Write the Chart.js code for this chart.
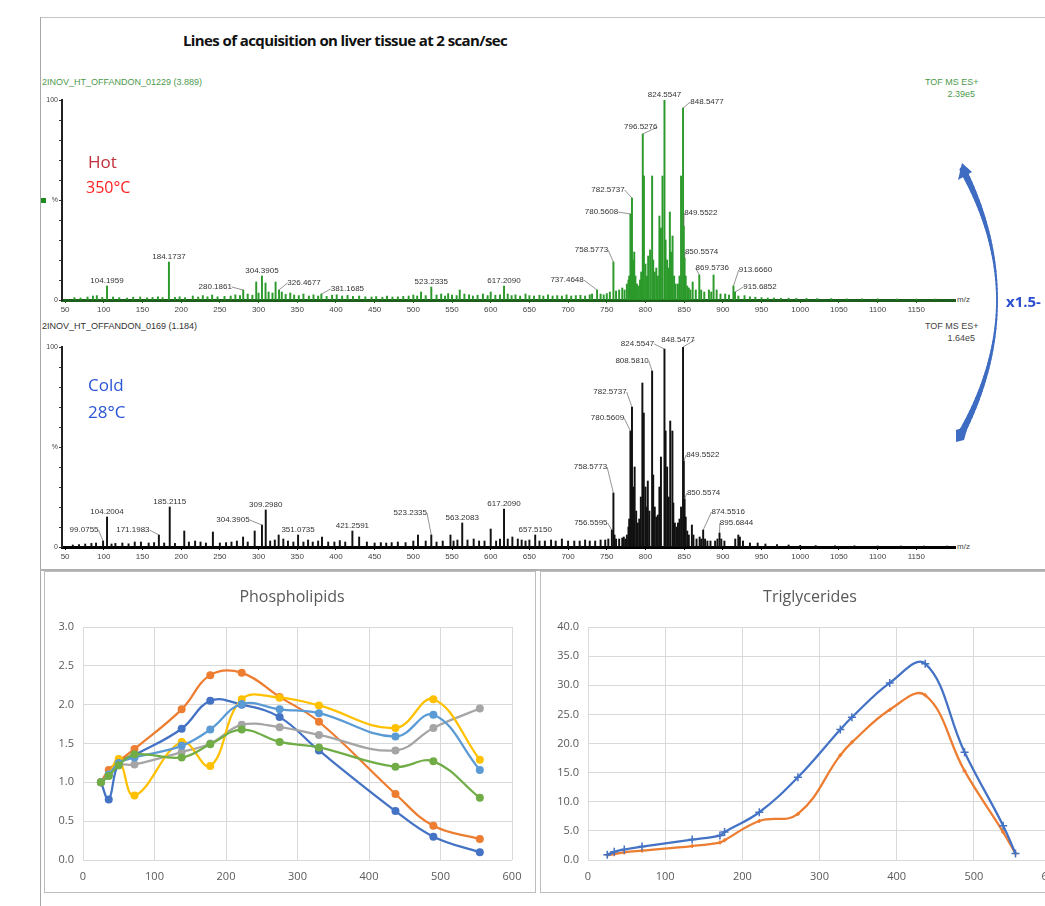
<!DOCTYPE html>
<html>
<head>
<meta charset="utf-8">
<script src="https://cdn.jsdelivr.net/npm/chart.js@4.4.0/dist/chart.umd.min.js"></script>
<style>
html, body { margin: 0; padding: 0; background: #fff; overflow: hidden; }
#page { position: relative; width: 1045px; height: 906px; overflow: hidden; }
#page canvas { position: absolute; }
.t { position: absolute; white-space: nowrap; font-family: "Liberation Sans", Arial, sans-serif; line-height: 1; }
.line { position: absolute; }
</style>
</head>
<body>
<div id="page">
  <div class="line" style="left:40px;top:17px;width:1005px;height:1px;background:#c4c4c4"></div>
  <div class="line" style="left:40px;top:17px;width:1px;height:889px;background:#a8a8a8"></div>

  <div class="t" style="left:183px;top:30px;font:bold 15px 'Open Sans',sans-serif;letter-spacing:-0.6px;color:#111">Lines of acquisition on liver tissue at 2 scan/sec</div>

  <div class="t" style="left:42px;top:78px;font-size:9px;color:#4c9a4c">2INOV_HT_OFFANDON_01229 (3.889)</div>
  <div class="t" style="left:925px;top:78px;width:50px;text-align:right;font-size:9px;color:#4c9a4c">TOF MS ES+</div>
  <div class="t" style="left:925px;top:90px;width:50px;text-align:right;font-size:9px;color:#4c9a4c">2.39e5</div>
  <div class="t" style="left:957px;top:296px;font-size:8px;color:#444">m/z</div>
  <div class="line" style="left:41px;top:198px;width:5px;height:5px;background:#1e8c1e"></div>

  <div class="t" style="left:42px;top:322px;font-size:9px;color:#333">2INOV_HT_OFFANDON_0169 (1.184)</div>
  <div class="t" style="left:925px;top:322px;width:50px;text-align:right;font-size:9px;color:#444">TOF MS ES+</div>
  <div class="t" style="left:925px;top:334px;width:50px;text-align:right;font-size:9px;color:#444">1.64e5</div>
  <div class="t" style="left:957px;top:543px;font-size:8px;color:#444">m/z</div>

  <canvas id="hotSpec" width="1005" height="262" style="left:40px;top:60px"></canvas>
  <canvas id="coldSpec" width="1005" height="262" style="left:40px;top:307px"></canvas>

  <div class="t" style="left:88px;top:150px;font:17px 'Open Sans',sans-serif;color:#c0303a">Hot</div>
  <div class="t" style="left:86px;top:176px;font:16px 'Open Sans',sans-serif;color:#ff1f1f">350°C</div>
  <div class="t" style="left:88px;top:373px;font:17px 'Open Sans',sans-serif;color:#2a55d6">Cold</div>
  <div class="t" style="left:88px;top:400px;font:17px 'Open Sans',sans-serif;color:#2a55d6">28°C</div>

  <canvas id="arrow" width="80" height="300" style="left:940px;top:150px"></canvas>
  <div class="t" style="left:1006px;top:291px;font:bold 15px 'Open Sans',sans-serif;color:#2b4fd1">x1.5-</div>

  <div class="line" style="left:40px;top:569px;width:1005px;height:2px;background:#b0b0b0"></div>
  <canvas id="phospho" width="492" height="322" style="left:44px;top:571px"></canvas>
  <canvas id="trig" width="560" height="322" style="left:540px;top:571px"></canvas>
</div>

<script>
// ---- spectra: [m/z, relative intensity %] ----
const specTicks = [50, 100, 150, 200, 250, 300, 350, 400, 450, 500, 550, 600, 650, 700, 750, 800, 850, 900, 950, 1000, 1050, 1100, 1150];
const specYTicks = [0, 10, 20, 30, 40, 50, 60, 70, 80, 90, 100];

// hot spectrum (350 °C), labelled peaks
const hotLabeled = [
  [104.1959, 7], [184.1737, 19], [280.1861, 5], [304.3905, 12], [326.4677, 5], [381.1685, 3],
  [523.2335, 6.5], [617.2090, 7], [737.4648, 5], [758.5773, 19], [780.5608, 43], [782.5737, 51],
  [796.5276, 83], [824.5547, 100], [848.5477, 96], [849.5522, 37], [850.5574, 21], [869.5736, 12.5],
  [913.6660, 7], [915.6852, 4]
];
// hot spectrum, other peaks
const hotPeaks = [
  [62, 1.2], [70, 1], [79, 1.5], [86, 2], [91, 2.2], [98, 1.3], [112, 1.5], [120, 1.2], [130, 1], [138, 1.4],
  [147, 1.5], [156, 1.1], [163, 1.3], [170, 1.6], [176, 1.2], [192, 1.3], [198, 1.6], [205, 1.2], [215, 2],
  [222, 1.5], [228, 2.2], [234, 1.6], [240, 2.5], [247, 1.6], [256, 1.8], [264, 2], [270, 2.6], [276, 2.2],
  [286, 3], [292, 2.4], [297, 9], [300, 3.5], [309, 8.5], [313, 4], [318, 3.5], [322, 9], [330, 4], [335, 2.8],
  [341, 3.5], [346, 2.5], [352, 2.2], [358, 3], [365, 2], [371, 2.6], [377, 2], [388, 1.8], [395, 2.4],
  [401, 2.6], [408, 2], [415, 2.3], [422, 1.8], [430, 2], [438, 1.6], [446, 1.5], [452, 1.7], [460, 1.4],
  [466, 2], [473, 1.5], [480, 1.6], [487, 1.8], [494, 2], [500, 2.5], [505, 2], [510, 4], [516, 2.2],
  [530, 2.5], [536, 3], [541, 2], [545, 3.2], [550, 2.4], [556, 2.2], [560, 5], [566, 3], [572, 2.6],
  [577, 2], [583, 2.4], [590, 3], [596, 2.2], [600, 4], [606, 2.4], [612, 2.6], [622, 3], [627, 2.2],
  [632, 2.6], [638, 2], [645, 3], [650, 2.2], [656, 2], [663, 2.4], [668, 2], [674, 2.6], [680, 2],
  [686, 2.2], [692, 2], [698, 2.6], [704, 2], [710, 2.2], [716, 2.4], [722, 2], [728, 2.6], [731, 3],
  [742, 3], [746, 2.6], [750, 3.2], [754, 4], [762, 4.5], [766, 5], [770, 6], [773, 5], [776, 8], [778, 10],
  [779, 12], [784, 20], [785.5, 24], [787, 12], [789, 8], [791, 7], [793, 10], [794.5, 14], [798, 62],
  [800, 18], [802, 12], [803.5, 22], [806, 25], [808.6, 62], [810, 20], [812, 14], [814, 16], [816, 12],
  [818, 42], [820, 36], [822, 62], [826, 30], [828, 20], [830, 16], [831.5, 44], [833, 24], [835, 32],
  [837, 12], [839, 8], [842, 8], [844, 12], [846, 62], [852, 12], [854, 7], [856, 6], [858, 5], [861, 9],
  [865, 5], [872, 5], [876, 4], [882, 5], [885, 4], [888, 12.5], [892, 5], [897, 3], [903, 3], [908, 2.5],
  [920, 2], [928, 2.2], [935, 1.6], [942, 1.4], [950, 1.2], [958, 1], [966, 1], [975, 0.9], [985, 0.9],
  [995, 0.8], [1008, 0.8], [1022, 0.7], [1040, 0.7], [1060, 0.6], [1080, 0.6], [1100, 0.6], [1125, 0.5],
  [1150, 0.5], [1175, 0.5]
];

// cold spectrum (28 °C), labelled peaks
const coldLabeled = [
  [99.0755, 3], [104.2004, 15], [171.1983, 6], [185.2115, 20], [304.3905, 11], [309.2980, 18.5],
  [351.0735, 6], [421.2591, 8], [523.2335, 6], [563.2083, 12], [617.2090, 19], [657.5150, 6],
  [756.5595, 8.5], [758.5773, 27], [780.5609, 58], [782.5737, 70], [808.5810, 88], [824.5547, 99],
  [848.5477, 100], [849.5522, 43], [850.5574, 24], [874.5516, 8.5], [895.6844, 7]
];
// cold spectrum, other peaks
const coldPeaks = [
  [60, 1], [68, 1.2], [76, 1.5], [84, 1.8], [90, 2], [110, 1.5], [115, 1.8], [124, 2], [132, 1.6], [140, 2.5],
  [148, 2.5], [158, 2], [165, 2.2], [178, 2], [192, 1.8], [204, 8], [210, 2.5], [218, 3], [225, 2.5], [232, 2],
  [241, 7.5], [250, 2], [258, 2.2], [265, 2.5], [272, 3], [280, 5], [286, 2.5], [295, 8], [315, 3], [321, 3.5],
  [326, 6], [332, 4], [338, 3], [345, 2.5], [358, 2.5], [364, 3.5], [370, 2.5], [377, 3], [382, 5], [390, 2.5],
  [398, 2.5], [405, 3.2], [412, 2.5], [430, 5], [440, 2.5], [450, 2], [458, 2.2], [465, 2], [472, 2.2],
  [480, 2.5], [490, 2.2], [500, 3], [506, 6], [516, 3], [530, 2.5], [538, 3], [548, 6], [552, 3], [557, 3.5],
  [570, 3.5], [578, 4], [585, 3], [592, 3], [600, 9], [607, 3], [612, 4], [622, 4], [628, 5], [635, 4],
  [640, 3.5], [645, 3], [650, 3.5], [663, 3], [670, 3], [678, 3.5], [684, 3], [692, 4], [700, 3], [708, 3],
  [715, 3], [722, 3.5], [728, 3], [735, 3], [742, 3.5], [748, 3.5], [752, 4], [760, 6], [762, 4], [766, 4],
  [770, 4.5], [772, 5], [774, 4], [776, 6], [778, 10], [779, 14], [784, 30], [786, 40], [788, 18], [790, 12],
  [792, 14], [794, 25], [796, 82], [797.8, 67], [800, 30], [802, 20], [803, 33], [805, 18], [810, 36],
  [812, 20], [814, 15], [816, 16], [818, 30], [820, 45], [826, 58], [828, 40], [830, 25], [832, 63],
  [834.8, 58], [836, 22], [838, 12], [840, 10], [842, 12], [844, 14], [846, 20], [852, 15], [854, 8],
  [856, 6], [860, 11], [862, 6], [866, 4], [870, 5], [872, 4], [877, 4], [880, 3], [884, 3], [890, 3],
  [893, 4], [898, 4], [902, 3], [916, 4], [920, 6], [922, 5], [926, 3], [935, 2], [945, 2], [955, 1.5],
  [970, 1.2], [985, 1], [1000, 0.8], [1020, 0.7], [1045, 0.6], [1070, 0.6], [1100, 0.5], [1130, 0.5],
  [1160, 0.5], [1190, 0.5]
];

// ---- line charts ----
const phosX = [25, 36, 50, 72, 138, 178, 222, 275, 330, 437, 490, 555];
const phosSeries1 = [1.00, 0.78, 1.25, 1.35, 1.69, 2.05, 2.00, 1.84, 1.41, 0.63, 0.30, 0.10];
const phosSeries2 = [1.00, 1.16, 1.27, 1.43, 1.94, 2.38, 2.41, 2.10, 1.78, 0.85, 0.44, 0.27];
const phosSeries3 = [1.00, 1.10, 1.22, 1.23, 1.39, 1.50, 1.74, 1.71, 1.61, 1.41, 1.70, 1.95];
const phosSeries4 = [1.00, 1.10, 1.30, 0.83, 1.52, 1.21, 2.07, 2.09, 1.99, 1.70, 2.07, 1.29];
const phosSeries5 = [1.00, 1.10, 1.25, 1.32, 1.47, 1.68, 2.01, 1.94, 1.89, 1.59, 1.87, 1.16];
const phosSeries6 = [1.00, 1.08, 1.22, 1.36, 1.32, 1.49, 1.68, 1.52, 1.45, 1.20, 1.27, 0.80];

const trigX = [25, 34, 47, 70, 135, 171, 177, 222, 272, 327, 342, 391, 437, 488, 538, 554];
const trigSeries1 = [0.9, 1.4, 1.8, 2.3, 3.5, 4.2, 4.8, 8.2, 14.2, 22.4, 24.5, 30.4, 33.7, 18.5, 5.9, 1.1];
const trigSeries2 = [0.8, 1.0, 1.3, 1.6, 2.4, 3.0, 3.4, 6.7, 7.9, 18.0, 20.2, 25.8, 28.3, 15.3, 4.8, 1.1];

const F = '"Liberation Sans", Arial, sans-serif';
Chart.defaults.font.family = F;

// label offsets [dx, dy] in px relative to the peak top
const hotNudge = {
  '280.1861': [-28, -3], '326.4677': [25, -7], '381.1685': [26, -5], '737.4648': [-30, -10],
  '758.5773': [-22, -12], '780.5608': [-29, -2], '782.5737': [-24, -8], '796.5276': [-2, -7],
  '848.5477': [24, -6], '849.5522': [17, -13], '850.5574': [17, -6], '869.5736': [13, -7],
  '913.6660': [22, -16], '915.6852': [25, -5]
};
const coldNudge = {
  '99.0755': [-19, -11], '171.1983': [-26, -5], '304.3905': [-29, -5], '523.2335': [-21, -22],
  '756.5595': [-21, -7], '758.5773': [-23, -26], '780.5609': [-23, -13], '782.5737': [-22, -15],
  '808.5810': [-20, -10], '824.5547': [-27, -5], '848.5477': [-5, -7], '849.5522': [19, -6],
  '850.5574': [19, -6], '874.5516': [25, -18], '895.6844': [17, -10]
};

function peakLabels(labeled, nudge) {
  return {
    id: 'peakLabels',
    afterDatasetsDraw(chart) {
      const { ctx, scales: { x, y } } = chart;
      ctx.save();
      ctx.font = '8px ' + F;
      ctx.fillStyle = '#333';
      ctx.strokeStyle = '#666';
      ctx.lineWidth = 0.7;
      ctx.textAlign = 'center';
      ctx.textBaseline = 'middle';
      labeled.forEach(([mz, val]) => {
        const txt = mz.toFixed(4);
        const [dx, dy] = nudge[txt] || [0, -5];
        const px = x.getPixelForValue(mz), top = y.getPixelForValue(val);
        const lx = px + dx, ly = top + dy;
        if (dx !== 0) {
          const w = ctx.measureText(txt).width;
          const ex = dx < 0 ? lx + w / 2 : lx - w / 2;
          ctx.beginPath();
          ctx.moveTo(ex, ly);
          ctx.lineTo(px, top);
          ctx.stroke();
        }
        ctx.fillText(txt, lx, ly);
      });
      ctx.restore();
    }
  };
}

function spectrum(id, peaks, labeled, nudge, color, baseColor) {
  const all = peaks.concat(labeled).sort((a, b) => a[0] - b[0]);
  return new Chart(document.getElementById(id), {
    type: 'bar',
    data: {
      datasets: [{
        data: all.map(p => ({ x: p[0], y: p[1] })),
        backgroundColor: color,
        borderWidth: 0,
        barThickness: 1.3
      }]
    },
    options: {
      responsive: false,
      animation: false,
      layout: { padding: { left: 0, right: 90, top: 40, bottom: 0 } },
      plugins: { legend: { display: false }, tooltip: { enabled: false } },
      scales: {
        x: {
          type: 'linear', min: 46, max: 1200, offset: false,
          afterBuildTicks: s => { s.ticks = specTicks.map(v => ({ value: v })); },
          afterFit: s => { s.height = 22; },
          grid: { drawOnChartArea: false, offset: false, tickLength: 3, color: baseColor },
          border: { color: baseColor, width: 3 },
          ticks: { font: { size: 8 }, color: '#444', padding: 2, maxRotation: 0, autoSkip: false, callback: v => String(v) }
        },
        y: {
          min: 0, max: 100,
          afterBuildTicks: s => { s.ticks = specYTicks.map(v => ({ value: v })); },
          afterFit: s => { s.width = 22; },
          grid: { drawOnChartArea: false, tickLength: 3, color: '#333' },
          border: { color: '#222', width: 2 },
          ticks: {
            font: { size: 7 }, color: '#444', padding: 1,
            callback: v => (v === 100 ? '100' : v === 50 ? '%' : v === 0 ? '0' : '')
          }
        }
      }
    },
    plugins: [peakLabels(labeled, nudge)]
  });
}

spectrum('hotSpec', hotPeaks, hotLabeled, hotNudge, '#2b9a2b', '#1d5e1d');
spectrum('coldSpec', coldPeaks, coldLabeled, coldNudge, '#111', '#000');

// titled line charts
function boxTitle(text, cx) {
  return {
    id: 'boxTitle',
    afterDraw(chart) {
      const ctx = chart.ctx;
      ctx.save();
      ctx.strokeStyle = '#bdbdbd';
      ctx.lineWidth = 1;
      ctx.strokeRect(0.5, 0.5, chart.width - 1, chart.height - 1);
      ctx.font = '16px "Open Sans", sans-serif';
      ctx.fillStyle = '#595959';
      ctx.textAlign = 'center';
      ctx.textBaseline = 'middle';
      ctx.fillText(text, cx, 26);
      ctx.restore();
    }
  };
}

function series(xs, ys, color, style, radius) {
  return {
    data: xs.map((x, i) => ({ x: x, y: ys[i] })),
    showLine: true,
    borderColor: color,
    backgroundColor: color,
    pointBackgroundColor: color,
    pointBorderColor: color,
    pointStyle: style,
    pointRadius: radius,
    pointBorderWidth: style === 'cross' ? 1.5 : 0,
    borderWidth: 2.25,
    tension: 0.4
  };
}

function lineOpts(yMax, yStep, yWidth, rightPad) {
  return {
    responsive: false,
    animation: false,
    layout: { padding: { left: 0, right: rightPad, top: 56, bottom: 0 } },
    plugins: { legend: { display: false }, tooltip: { enabled: false } },
    scales: {
      x: {
        type: 'linear', min: 0, max: 600,
        afterFit: s => { s.height = 33; },
        grid: { color: '#d9d9d9', drawTicks: false },
        border: { display: false },
        ticks: { stepSize: 100, font: { size: 11, family: '"Open Sans", sans-serif' }, color: '#595959', padding: 10, maxRotation: 0 }
      },
      y: {
        min: 0, max: yMax,
        afterFit: s => { s.width = yWidth; },
        grid: { color: '#d9d9d9', drawTicks: false },
        border: { display: false },
        ticks: { stepSize: yStep, font: { size: 11, family: '"Open Sans", sans-serif' }, color: '#595959', padding: 9, callback: v => v.toFixed(1) }
      }
    }
  };
}

new Chart(document.getElementById('phospho'), {
  type: 'scatter',
  data: {
    datasets: [
      series(phosX, phosSeries6, '#70AD47', 'circle', 4),
      series(phosX, phosSeries5, '#5B9BD5', 'circle', 4),
      series(phosX, phosSeries4, '#FFC000', 'circle', 4),
      series(phosX, phosSeries3, '#A5A5A5', 'circle', 4),
      series(phosX, phosSeries2, '#ED7D31', 'circle', 4),
      series(phosX, phosSeries1, '#4472C4', 'circle', 4)
    ]
  },
  options: lineOpts(3, 0.5, 39, 24),
  plugins: [boxTitle('Phospholipids', 248)]
});

new Chart(document.getElementById('trig'), {
  type: 'scatter',
  data: {
    datasets: [
      series(trigX, trigSeries1, '#4472C4', 'cross', 4),
      series(trigX, trigSeries2, '#ED7D31', 'cross', 2)
    ]
  },
  options: lineOpts(40, 5, 48, 49),
  plugins: [boxTitle('Triglycerides', 270)]
});

// curved blue arrow between the two spectra
(function () {
  const c = document.getElementById('arrow').getContext('2d');
  const ox = 940, oy = 150;
  const p0 = [963 - ox, 170 - oy], p1 = [1032 - ox, 302 - oy], p2 = [961 - ox, 434 - oy];
  const pt = t => [
    (1 - t) * (1 - t) * p0[0] + 2 * (1 - t) * t * p1[0] + t * t * p2[0],
    (1 - t) * (1 - t) * p0[1] + 2 * (1 - t) * t * p1[1] + t * t * p2[1]
  ];
  c.strokeStyle = '#3d6cc2';
  c.lineCap = 'round';
  const n = 60;
  for (let i = 0; i < n; i++) {
    const a = pt(i / n), b = pt((i + 1) / n);
    const m = Math.abs(1 - 2 * (i + 0.5) / n);
    c.lineWidth = 1.8 + 5 * Math.pow(m, 1.6);
    c.beginPath();
    c.moveTo(a[0], a[1]);
    c.lineTo(b[0], b[1]);
    c.stroke();
  }
  c.fillStyle = '#3d6cc2';
  c.beginPath();
  c.moveTo(962 - ox, 163 - oy);
  c.lineTo(972 - ox, 172 - oy);
  c.lineTo(958 - ox, 180 - oy);
  c.closePath();
  c.fill();
  c.beginPath();
  c.moveTo(956 - ox, 430 - oy);
  c.lineTo(968 - ox, 426 - oy);
  c.lineTo(964 - ox, 440 - oy);
  c.lineTo(956 - ox, 442 - oy);
  c.closePath();
  c.fill();
})();
</script>
</body>
</html>
